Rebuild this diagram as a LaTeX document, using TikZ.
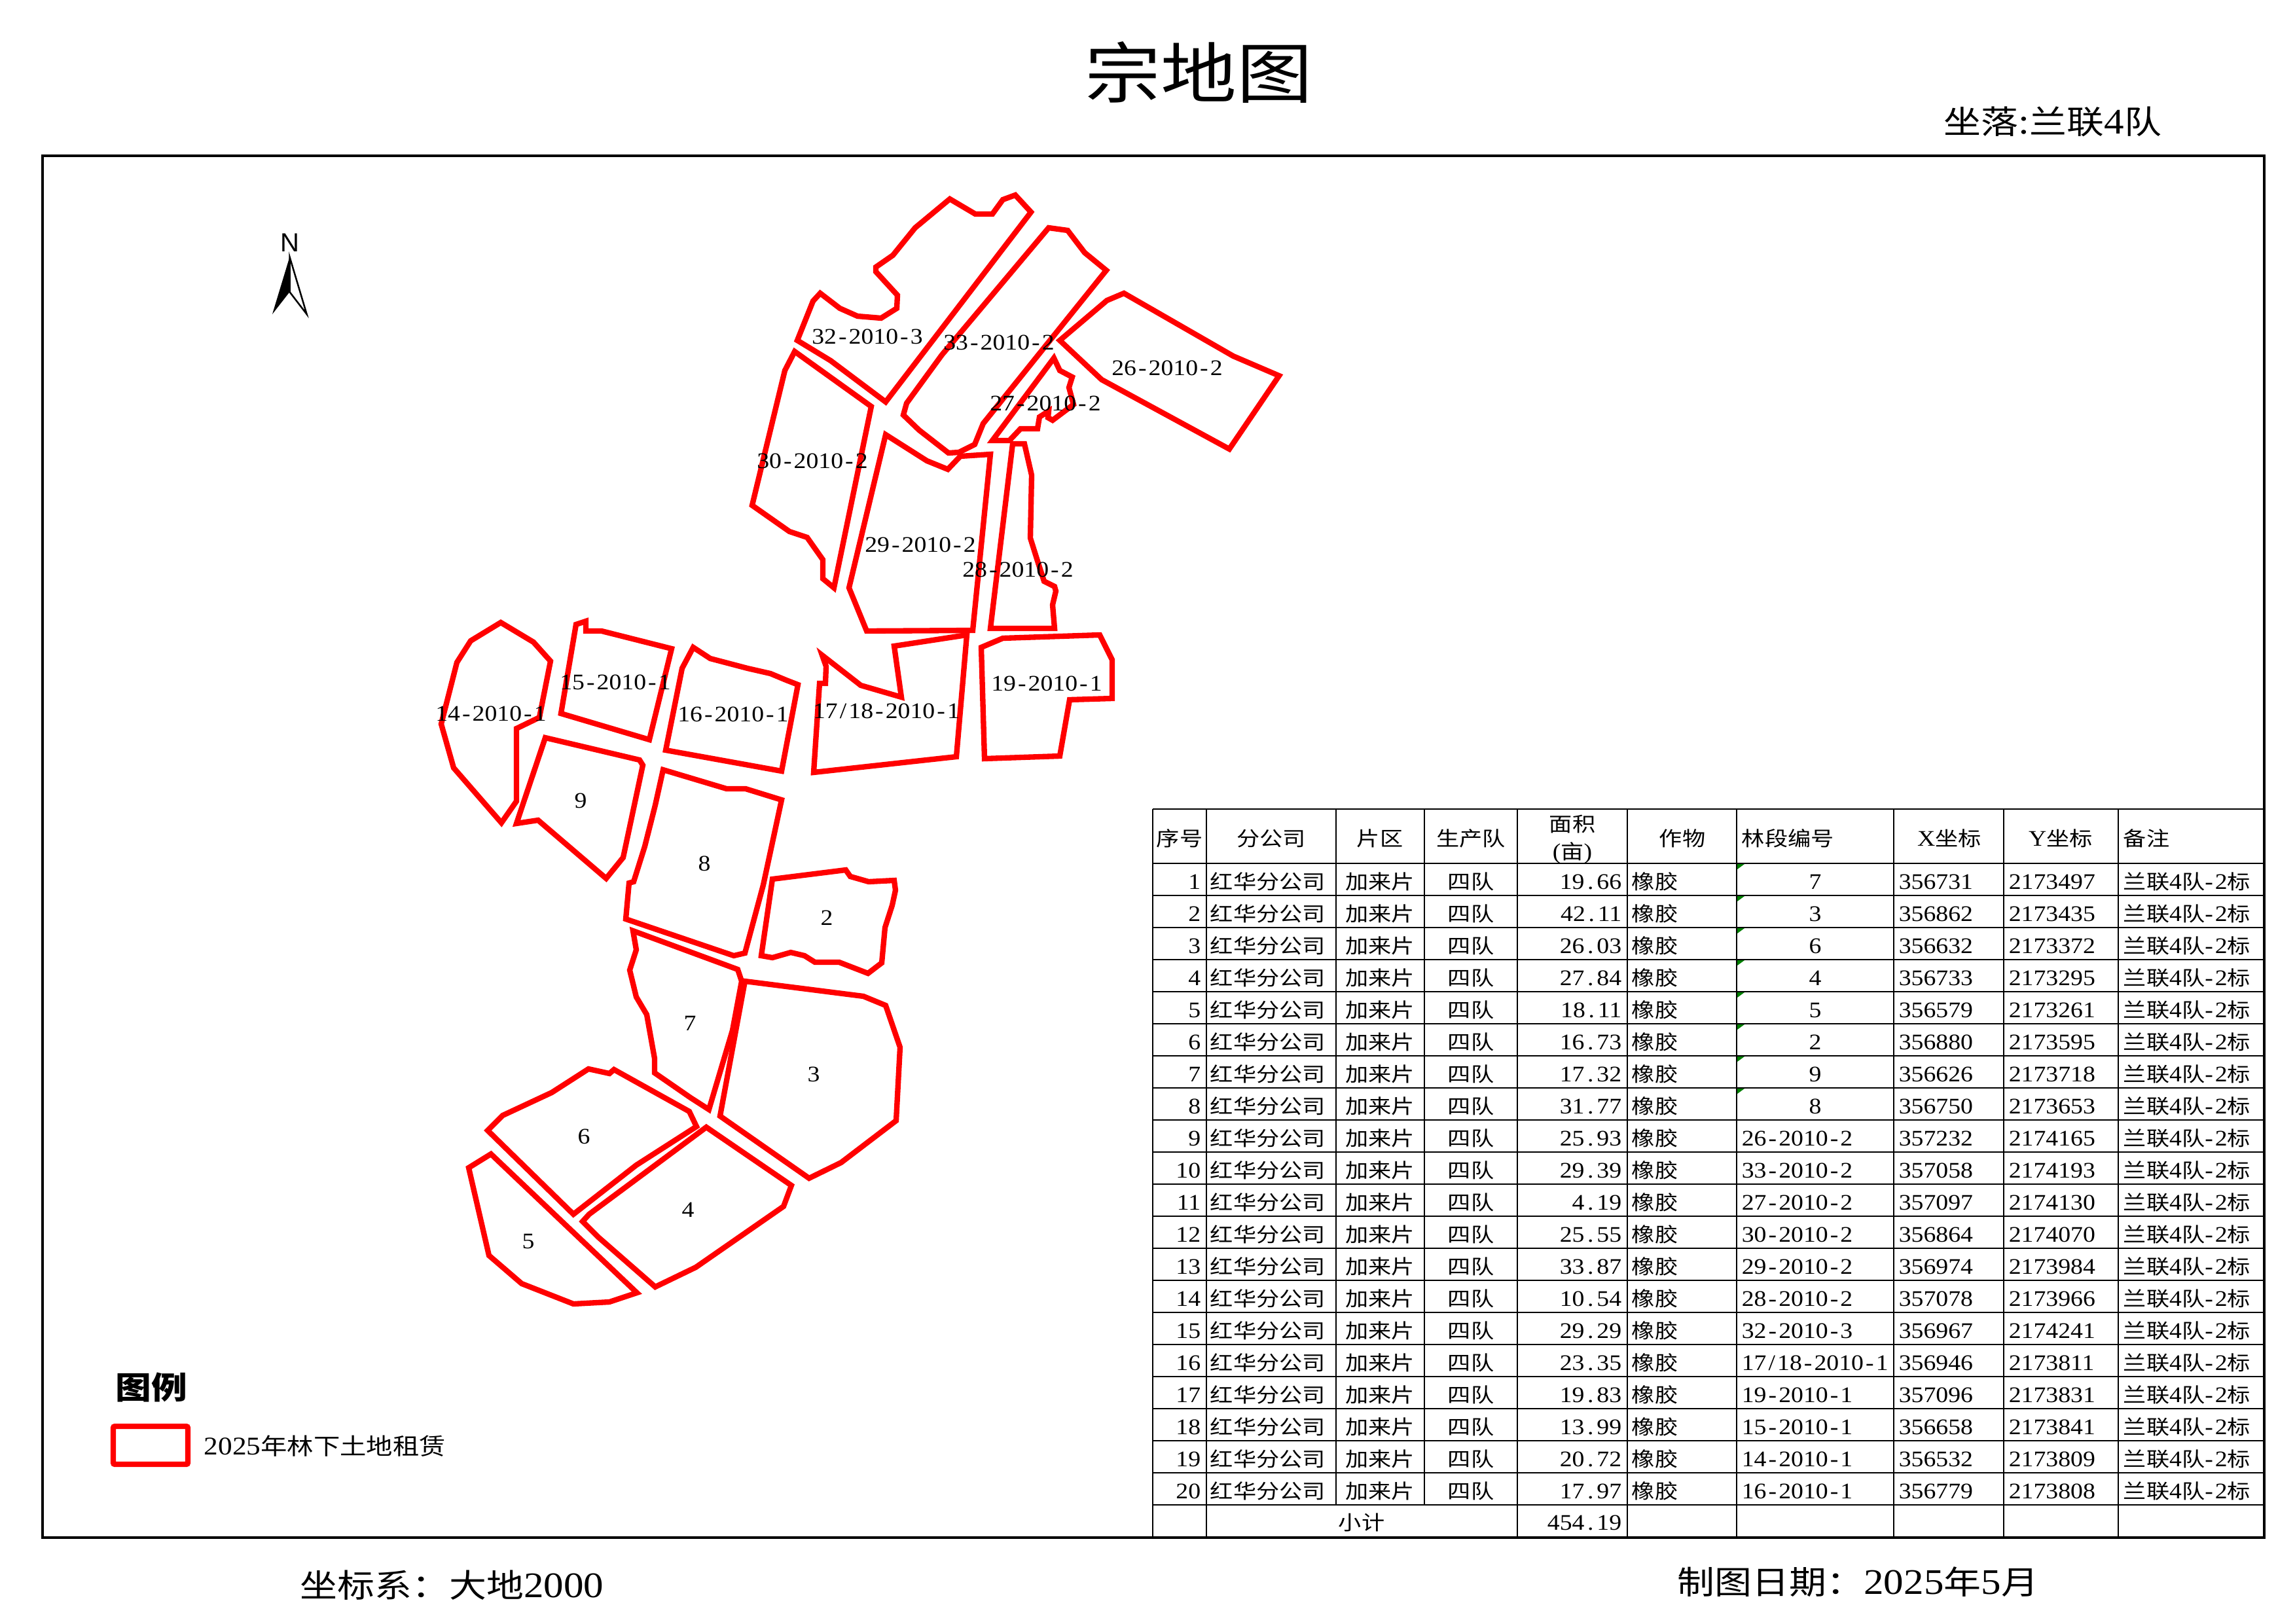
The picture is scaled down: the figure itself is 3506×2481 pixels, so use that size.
\documentclass[tikz,border=0pt]{standalone}
\usepackage{fontspec}
\setmainfont{Liberation Serif}[FakeStretch=1.11]
\newfontfamily\zhfont{Noto Sans CJK SC}[Scale=0.9,FakeStretch=1.15]
\newfontfamily\northfont{Liberation Sans}
\newcommand{\zh}[1]{{\zhfont #1}}
\newcommand{\cellsize}{\fontsize{8.16pt}{9pt}\selectfont}
\newcommand{\footsize}{\fontsize{13.2pt}{15pt}\selectfont}
\XeTeXinterchartokenstate=1
\newXeTeXintercharclass\dotclass
\newXeTeXintercharclass\dashclass
\XeTeXcharclass`\.=\dotclass
\XeTeXcharclass`\:=\dotclass
\XeTeXcharclass`\-=\dashclass
\XeTeXcharclass`\/=\dashclass
\XeTeXinterchartoks 0 \dotclass={\kern.14em}
\XeTeXinterchartoks \dotclass 0={\kern.14em}
\XeTeXinterchartoks 0 \dashclass={\kern.09em}
\XeTeXinterchartoks \dashclass 0={\kern.09em}
\definecolor{tickgreen}{RGB}{0,128,0}
\tikzset{
  parcel/.style={draw=red,line width=2pt},
  parcellabel/.style={inner sep=0pt,font=\cellsize},
  grid/.style={line width=0.55pt},
  frameline/.style={line width=0.95pt},
  cellmid/.style={inner sep=0pt,anchor=base,font=\cellsize},
  cellleft/.style={inner sep=0pt,anchor=base west,font=\cellsize},
  cellright/.style={inner sep=0pt,anchor=base east,font=\cellsize},
  footnote/.style={inner sep=0pt,anchor=base west,font=\footsize}
}

\begin{document}
\begin{tikzpicture}[x=0.24pt,y=-0.24pt]
      \useasboundingbox (0,0) rectangle (3506,2481);
      \fill[white] (0,0) rectangle (3506,2481);

      \node[inner sep=0pt,anchor=base,font=\fontsize{26.9pt}{28pt}\selectfont] (title) at (1831,149) {\zh{宗地图}};
      \node[footnote] (place) at (2969,204) {\zh{坐落}:\zh{兰联}4\zh{队}};
      \node[footnote] (crs) at (458,2440) {\zh{坐标系：大地}2000};
      \node[footnote] (date) at (2562,2435) {\zh{制图日期：}2025\zh{年}5\zh{月}};

      \draw[frameline] (65,238) rectangle (3459,2349);

      \node[inner sep=0pt,font=\fontsize{9.6pt}{10pt}\northfont] (north) at (443,371) {N};
      \fill (442.5,392.5) -- (416,480) -- (442.5,446) -- cycle;
      \draw[line width=0.6pt] (442.5,392.5) -- (468.6,480) -- (442.5,446) -- cycle;

      \draw[parcel] (1451,304) -- (1490,327) -- (1516,327) -- (1532,305) -- (1551,298) -- (1575,324) -- (1353,614) -- (1269,551) -- (1218,520) -- (1242,460) -- (1253,448) -- (1283,471) -- (1310,483) -- (1346,486) -- (1370,471) -- (1371,451) -- (1338,415) -- (1338,408) -- (1364,390) -- (1398,348) -- cycle;
      \draw[parcel] (1602,348) -- (1631,352) -- (1657,386) -- (1690,413) -- (1502,647) -- (1489,679) -- (1465,691) -- (1449,692) -- (1404,657) -- (1380,634) -- (1385,616) -- (1439,542) -- cycle;
      \draw[parcel] (1619,520) -- (1691,459) -- (1717,448) -- (1884,544) -- (1954,574) -- (1878,686) -- (1683,580) -- cycle;
      \draw[parcel] (1610,547) -- (1619,566) -- (1638,576) -- (1633,592) -- (1640,618) -- (1608,642) -- (1601,638) -- (1602,628) -- (1588,637) -- (1585,655) -- (1559,655) -- (1542,673) -- (1516,673) -- cycle;
      \draw[parcel] (1547,678) -- (1565,678) -- (1576,726) -- (1574,822) -- (1585,857) -- (1595,888) -- (1611,896) -- (1613,903) -- (1608,924) -- (1611,960) -- (1513,960) -- cycle;
      \draw[parcel] (1353,664) -- (1416,704) -- (1448,717) -- (1467,697) -- (1513,694) -- (1486,963) -- (1324,964) -- (1297,898) -- cycle;
      \draw[parcel] (1214,537) -- (1331,621) -- (1274,898) -- (1257,884) -- (1257,855) -- (1233,821) -- (1206,812) -- (1149,772) -- (1199,566) -- cycle;
      \draw[parcel] (765,951) -- (815,981) -- (841,1010) -- (824,1096) -- (789,1113) -- (789,1224) -- (766,1257) -- (693,1173) -- (674,1106) -- (698,1012) -- (719,979) -- cycle;
      \draw[parcel] (880,954) -- (895,949) -- (895,964) -- (919,964) -- (1026,991) -- (992,1130) -- (857,1090) -- cycle;
      \draw[parcel] (1059,989) -- (1085,1006) -- (1142,1021) -- (1177,1029) -- (1201,1039) -- (1219,1046) -- (1194,1178) -- (1017,1146) -- (1042,1021) -- cycle;
      \draw[parcel] (1256,1001) -- (1315,1047) -- (1377,1065) -- (1366,987) -- (1477,970) -- (1461,1156) -- (1243,1180) -- (1252,1044) -- (1261,1044) -- (1262,1018) -- cycle;
      \draw[parcel] (1532,975) -- (1680,970) -- (1699,1008) -- (1699,1067) -- (1634,1069) -- (1619,1155) -- (1504,1159) -- (1499,989) -- cycle;
      \draw[parcel] (833,1127) -- (977,1161) -- (982,1169) -- (952,1310) -- (926,1342) -- (822,1253) -- (789,1258) -- cycle;
      \draw[parcel] (1013,1176) -- (1110,1205) -- (1139,1205) -- (1194,1222) -- (1166,1352) -- (1138,1456) -- (1121,1460) -- (956,1404) -- (961,1349) -- (968,1347) -- (985,1293) -- (1001,1230) -- cycle;
      \draw[parcel] (1180,1343) -- (1292,1329) -- (1299,1339) -- (1327,1347) -- (1366,1345) -- (1368,1360) -- (1363,1383) -- (1352,1417) -- (1347,1471) -- (1326,1487) -- (1282,1470) -- (1245,1470) -- (1229,1460) -- (1208,1455) -- (1180,1463) -- (1163,1460) -- cycle;
      \draw[parcel] (967,1422) -- (1127,1481) -- (1133,1499) -- (1119,1574) -- (1083,1695) -- (1055,1677) -- (1000,1639) -- (1000,1617) -- (988,1550) -- (972,1523) -- (962,1482) -- (972,1451) -- cycle;
      \draw[parcel] (1138,1499) -- (1319,1522) -- (1353,1536) -- (1375,1600) -- (1369,1712) -- (1285,1776) -- (1236,1800) -- (1100,1705) -- cycle;
      \draw[parcel] (899,1633) -- (931,1640) -- (938,1634) -- (1053,1698) -- (1064,1721) -- (972,1780) -- (876,1855) -- (745,1727) -- (768,1704) -- (843,1669) -- cycle;
      \draw[parcel] (1079,1722) -- (1209,1811) -- (1197,1843) -- (1063,1936) -- (1001,1966) -- (914,1890) -- (890,1866) -- (900,1855) -- cycle;
      \draw[parcel] (750,1763) -- (973,1975) -- (931,1989) -- (876,1992) -- (797,1961) -- (747,1918) -- (716,1784) -- cycle;

      \node[parcellabel] (p32) at (1325,514) {32-2010-3};
      \node[parcellabel] (p33) at (1526,523) {33-2010-2};
      \node[parcellabel] (p26) at (1783,562) {26-2010-2};
      \node[parcellabel] (p27) at (1597,616) {27-2010-2};
      \node[parcellabel] (p30) at (1241,704) {30-2010-2};
      \node[parcellabel] (p29) at (1406,832) {29-2010-2};
      \node[parcellabel] (p28) at (1555,870) {28-2010-2};
      \node[parcellabel] (p15) at (940,1042) {15-2010-1};
      \node[parcellabel] (p14) at (750,1090) {14-2010-1};
      \node[parcellabel] (p16) at (1120,1091) {16-2010-1};
      \node[parcellabel] (p17) at (1354,1086) {17/18-2010-1};
      \node[parcellabel] (p19) at (1599,1044) {19-2010-1};
      \node[parcellabel] (p9) at (887,1223) {9};
      \node[parcellabel] (p8) at (1076,1319) {8};
      \node[parcellabel] (p2) at (1263,1402) {2};
      \node[parcellabel] (p7) at (1054,1563) {7};
      \node[parcellabel] (p3) at (1243,1641) {3};
      \node[parcellabel] (p6) at (892,1736) {6};
      \node[parcellabel] (p4) at (1051,1848) {4};
      \node[parcellabel] (p5) at (807,1897) {5};

      \node[inner sep=0pt,anchor=base west,font=\fontsize{12.7pt}{14pt}\selectfont\bfseries] (legendhead) at (176,2137) {\zh{图例}};
      \draw[draw=red,line width=2pt,rounded corners=0.6pt] (173,2179) rectangle (287,2237);
      \node[inner sep=0pt,anchor=base west,font=\fontsize{9.36pt}{11pt}\selectfont] (legendtext) at (311,2222) {2025\zh{年林下土地租赁}};

      \foreach \cx in {1761,1843,2318,2486,2653,2893,3061,3236}
        \draw[grid] (\cx,1236) -- (\cx,2349);
      \foreach \cx in {2041,2176}
        \draw[grid] (\cx,1236) -- (\cx,2299);
      \draw[grid] (1761,1236) -- (3459,1236);
      \foreach \ry in {0,...,20}
        \draw[grid] (1761,{1319+49*\ry}) -- (3459,{1319+49*\ry});

      \node[cellmid] (hno) at (1802,1292) {\zh{序号}};
      \node[cellmid] (hcompany) at (1942,1292) {\zh{分公司}};
      \node[cellmid] (harea) at (2108,1292) {\zh{片区}};
      \node[cellmid] (hteam) at (2247,1292) {\zh{生产队}};
      \node[cellmid] (hsize) at (2402,1270) {\zh{面积}};
      \node[cellmid] (hunit) at (2402,1312) {(\zh{亩})};
      \node[cellmid] (hcrop) at (2570,1292) {\zh{作物}};
      \node[cellleft] (hlin) at (2660,1292) {\zh{林段编号}};
      \node[cellmid] (hx) at (2978,1292) {X\zh{坐标}};
      \node[cellmid] (hy) at (3148,1292) {Y\zh{坐标}};
      \node[cellleft] (hnote) at (3243,1292) {\zh{备注}};

      \foreach[evaluate=\no as \rowy using int(1309+49*\no)] \no/\size/\xc/\yc in {1/19.66/356731/2173497,2/42.11/356862/2173435,3/26.03/356632/2173372,4/27.84/356733/2173295,5/18.11/356579/2173261,6/16.73/356880/2173595,7/17.32/356626/2173718,8/31.77/356750/2173653,9/25.93/357232/2174165,10/29.39/357058/2174193,11/4.19/357097/2174130,12/25.55/356864/2174070,13/33.87/356974/2173984,14/10.54/357078/2173966,15/29.29/356967/2174241,16/23.35/356946/2173811,17/19.83/357096/2173831,18/13.99/356658/2173841,19/20.72/356532/2173809,20/17.97/356779/2173808}{
        \node[cellright] (no\no) at (1835,\rowy) {\no};
        \node[cellleft] (company\no) at (1848,\rowy) {\zh{红华分公司}};
        \node[cellmid] (area\no) at (2108,\rowy) {\zh{加来片}};
        \node[cellmid] (team\no) at (2247,\rowy) {\zh{四队}};
        \node[cellright] (size\no) at (2478,\rowy) {\size};
        \node[cellleft] (crop\no) at (2492,\rowy) {\zh{橡胶}};
        \node[cellleft] (xc\no) at (2900,\rowy) {\xc};
        \node[cellleft] (yc\no) at (3068,\rowy) {\yc};
        \node[cellleft] (note\no) at (3243,\rowy) {\zh{兰联}4\zh{队}-2\zh{标}};
      }
      \foreach[evaluate=\no as \rowy using int(1309+49*\no)] \no/\lin in {1/7,2/3,3/6,4/4,5/5,6/2,7/9,8/8}{
        \node[cellmid] (lin\no) at (2773,\rowy) {\lin};
        \fill[tickgreen] (2654,{\rowy-38}) -- (2665,{\rowy-38}) -- (2654,{\rowy-30}) -- cycle;
      }
      \foreach[evaluate=\no as \rowy using int(1309+49*\no)] \no/\lin in {9/26-2010-2,10/33-2010-2,11/27-2010-2,12/30-2010-2,13/29-2010-2,14/28-2010-2,15/32-2010-3,16/{17/18-2010-1},17/19-2010-1,18/15-2010-1,19/14-2010-1,20/16-2010-1}
        \node[cellleft] (lin\no) at (2660,\rowy) {\lin};

      \node[cellmid] (subtotal) at (2080,2337) {\zh{小计}};
      \node[cellright] (total) at (2478,2337) {454.19};
    \end{tikzpicture}
\end{document}
